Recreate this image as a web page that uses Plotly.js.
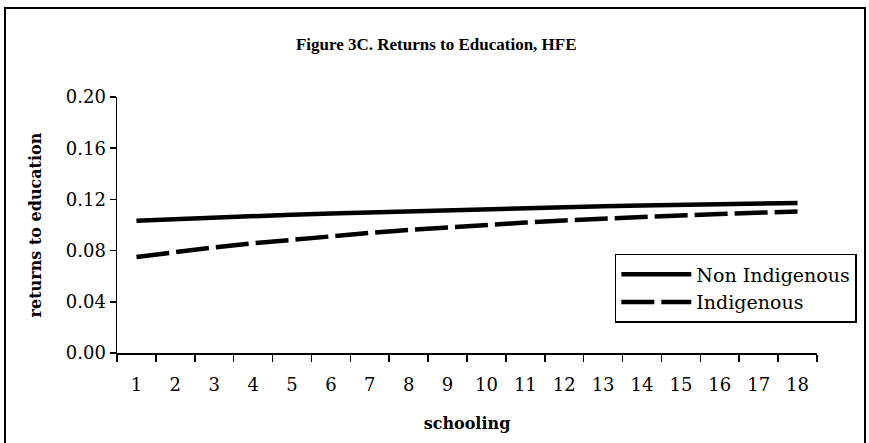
<!DOCTYPE html>
<html>
<head>
<meta charset="utf-8">
<script src="https://cdn.plot.ly/plotly-3.0.1.min.js"></script>
<style>
  html, body { margin: 0; padding: 0; background: #fff; }
  #wrap { position: relative; width: 869px; height: 443px; }
  #chart { width: 869px; height: 443px; }
  #frame { position: absolute; left: 4px; top: 7px; width: 862px; height: 450px; border: 2px solid #000; pointer-events: none; box-sizing: border-box; }
</style>
</head>
<body>
<div id="wrap">
  <div id="chart"></div>
  <div id="frame"></div>
</div>
<script>
const schooling = ["1","2","3","4","5","6","7","8","9","10","11","12","13","14","15","16","17","18"];
const nonIndigenous = [0.1034,0.1047,0.1059,0.1070,0.1080,0.1090,0.1099,0.1108,0.1116,0.1124,0.1132,0.1139,0.1146,0.1152,0.1158,0.1163,0.1168,0.1172];
const indigenous = [0.0750,0.0790,0.0825,0.0857,0.0886,0.0913,0.0938,0.0961,0.0982,0.1001,0.1019,0.1035,0.1050,0.1063,0.1075,0.1086,0.1096,0.1106];
const yTicks = [0, 0.04, 0.08, 0.12, 0.16, 0.20];
const yTickText = ["0.00","0.04","0.08","0.12","0.16","0.20"];

const font = "DejaVu Serif, serif";
const titleFont = "Liberation Serif, Times New Roman, serif";

const traces = [
  { x: schooling, y: nonIndigenous, type: "scatter", mode: "lines", name: "Non Indigenous",
    line: { color: "#000", width: 4.5 } },
  { x: schooling, y: indigenous, type: "scatter", mode: "lines", name: "Indigenous",
    line: { color: "#000", width: 4.5, dash: "33px,7px" } }
];

const layout = {
  width: 869, height: 443,
  margin: { l: 117, r: 52, t: 97, b: 90, autoexpand: false },
  paper_bgcolor: "#fff", plot_bgcolor: "#fff",
  font: { family: font, color: "#000", size: 18 },
  title: { text: "<b>Figure 3C. Returns to Education, HFE</b>", font: { family: titleFont, size: 17, color: "#000" },
           x: 0.502, xanchor: "center", y: 0.9, yanchor: "middle", yref: "container" },
  xaxis: {
    type: "category", range: [-0.5, 17.5], tickson: "boundaries",
    showline: true, linecolor: "#000", linewidth: 1.5, ticks: "outside", ticklen: 7, tickcolor: "#000", tickwidth: 1.5,
    showgrid: false, zeroline: false, tickfont: { family: font, size: 18 }, ticklabelstandoff: 15,
    title: { text: "<b>schooling</b>", font: { family: font, size: 16 }, standoff: 23 }
  },
  yaxis: {
    range: [0, 0.20], tickvals: yTicks, ticktext: yTickText,
    showline: true, linecolor: "#000", linewidth: 1.5, ticks: "outside", ticklen: 6, tickcolor: "#000", tickwidth: 1.5,
    showgrid: false, zeroline: false, tickfont: { family: font, size: 18 },
    title: { text: "<b>returns to education</b>", font: { family: font, size: 16 }, standoff: 20 }
  },
  legend: {
    xref: "container", yref: "container",
    x: 0.986, xanchor: "right", y: 0.427, yanchor: "top",
    bgcolor: "#fff", bordercolor: "#000", borderwidth: 1.5,
    font: { family: font, size: 19 }, itemwidth: 70, tracegroupgap: 0
  },
  showlegend: true
};

Plotly.newPlot("chart", traces, layout, { displayModeBar: false, staticPlot: true });
</script>
</body>
</html>
